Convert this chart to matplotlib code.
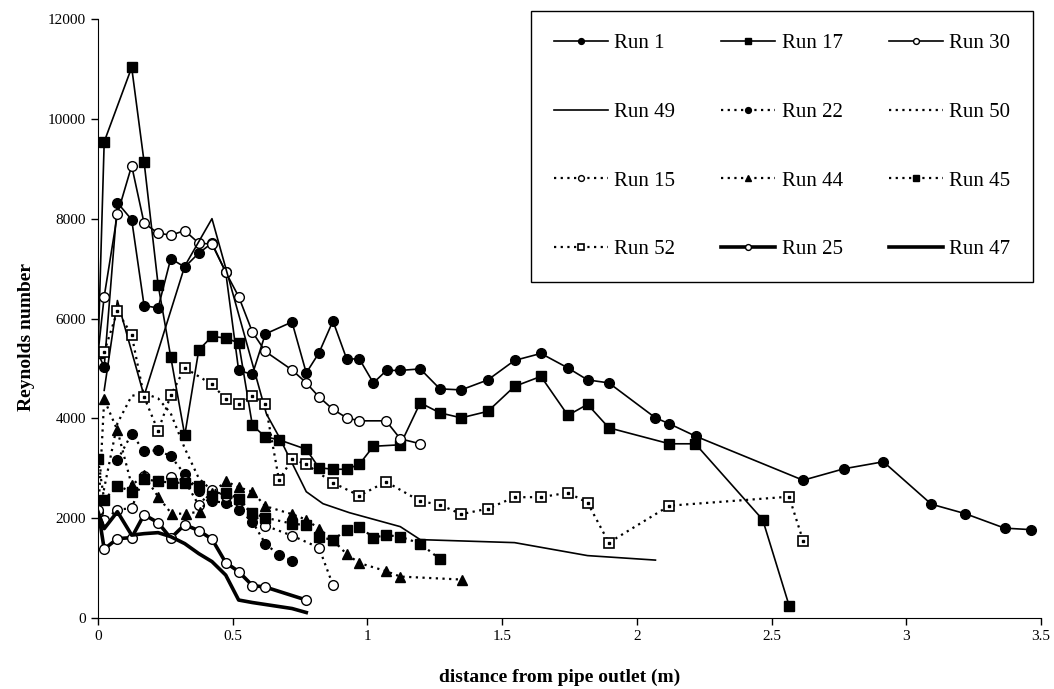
import matplotlib
matplotlib.use("Agg")
import matplotlib.pyplot as plt
from matplotlib.ticker import FuncFormatter

plt.rcParams['font.family'] = ['Liberation Serif', 'DejaVu Serif']

# distance from pipe outlet (m) and Reynolds number
run1_x = [0, 0.023, 0.072, 0.125, 0.171, 0.223, 0.27, 0.322, 0.374, 0.423, 0.474, 0.522, 0.573,
          0.621, 0.72, 0.773, 0.82, 0.872, 0.923, 0.97, 1.022, 1.071, 1.122, 1.196, 1.269, 1.348,
          1.447, 1.546, 1.644, 1.744, 1.817, 1.896, 2.069, 2.121, 2.219, 2.617, 2.769, 2.915,
          3.093, 3.219, 3.365, 3.464]
run1_y = [5300, 5030, 8320, 7980, 6260, 6210, 7200, 7030, 7310, 7510, 6930, 4960, 4880,
          5690, 5930, 4910, 5310, 5950, 5190, 5190, 4710, 4960, 4960, 4990, 4590, 4570,
          4770, 5160, 5300, 5010, 4770, 4710, 4010, 3890, 3640, 2760, 2990, 3130,
          2280, 2090, 1800, 1770]

run17_x = [0, 0.023, 0.125, 0.171, 0.223, 0.27, 0.322, 0.374, 0.423, 0.474, 0.522, 0.573, 0.621,
           0.672, 0.773, 0.82, 0.872, 0.923, 0.97, 1.022, 1.122, 1.196, 1.269, 1.348, 1.447,
           1.546, 1.644, 1.744, 1.817, 1.896, 2.121, 2.217, 2.467, 2.565]
run17_y = [5300, 9540, 11030, 9140, 6680, 5230, 3660, 5370, 5640, 5610, 5510, 3860, 3630,
           3570, 3380, 3010, 2980, 2980, 3080, 3440, 3470, 4310, 4110, 4010, 4140,
           4640, 4840, 4060, 4280, 3810, 3490, 3490, 1970, 250]

run30_x = [0, 0.023, 0.072, 0.125, 0.171, 0.223, 0.27, 0.322, 0.374, 0.423, 0.474, 0.522, 0.573,
           0.621, 0.72, 0.773, 0.82, 0.872, 0.923, 0.97, 1.069, 1.122, 1.196]
run30_y = [5300, 6440, 8090, 9060, 7910, 7710, 7670, 7760, 7510, 7490, 6930, 6440, 5730,
           5340, 4970, 4710, 4430, 4180, 4010, 3950, 3950, 3590, 3490]

run49_x = [0.023, 0.072, 0.171, 0.322, 0.423, 0.625, 0.672, 0.773, 0.835, 0.933, 1.122, 1.196,
           1.546, 1.817, 2.069]
run49_y = [4560, 6360, 4450, 7050, 8000, 4090, 3630, 2530, 2290, 2110, 1830, 1570,
           1510, 1250, 1160]

run22_x = [0.072, 0.125, 0.171, 0.223, 0.27, 0.322, 0.374, 0.423, 0.474, 0.522, 0.573, 0.621,
           0.672, 0.72]
run22_y = [3160, 3690, 3340, 3360, 3240, 2880, 2550, 2340, 2310, 2170, 1930, 1490,
           1260, 1150]

run50_x = [0, 0.023, 0.072, 0.125, 0.171, 0.223, 0.27, 0.322, 0.374, 0.423]
run50_y = [1900, 2600, 3900, 4450, 4500, 4400, 4100, 3400, 2800, 2550]

run15_x = [0, 0.023, 0.072, 0.125, 0.171, 0.223, 0.27, 0.322, 0.374, 0.423, 0.474, 0.522, 0.573,
           0.621, 0.72, 0.82, 0.872]
run15_y = [2120, 1960, 2170, 2200, 2850, 2750, 2830, 2750, 2260, 2560, 2450, 2350, 2090,
           1850, 1650, 1410, 660]

run44_x = [0, 0.023, 0.072, 0.125, 0.171, 0.223, 0.273, 0.325, 0.378, 0.423, 0.474, 0.522, 0.573,
           0.621, 0.72, 0.773, 0.82, 0.872, 0.923, 0.97, 1.069, 1.122, 1.35]
run44_y = [2000, 4380, 3760, 2660, 2860, 2430, 2090, 2090, 2130, 2500, 2740, 2620, 2530,
           2240, 2080, 1970, 1790, 1560, 1280, 1100, 940, 830, 770]

run45_x = [0, 0.023, 0.072, 0.125, 0.171, 0.223, 0.273, 0.322, 0.374, 0.423, 0.474, 0.522, 0.573,
           0.621, 0.72, 0.773, 0.82, 0.872, 0.923, 0.97, 1.022, 1.069, 1.122, 1.196, 1.269]
run45_y = [3180, 2370, 2650, 2530, 2780, 2740, 2710, 2710, 2650, 2450, 2510, 2390, 2100,
           2010, 1890, 1860, 1630, 1560, 1770, 1830, 1610, 1660, 1630, 1490, 1180]

run52_x = [0.023, 0.072, 0.125, 0.171, 0.223, 0.27, 0.322, 0.423, 0.474, 0.522, 0.573, 0.621,
           0.672, 0.72, 0.773, 0.872, 0.97, 1.069, 1.196, 1.269, 1.348, 1.447, 1.546, 1.644,
           1.744, 1.817, 1.896, 2.121, 2.565, 2.617]
run52_y = [5330, 6150, 5670, 4430, 3750, 4460, 5010, 4680, 4390, 4280, 4450, 4290,
           2760, 3180, 3080, 2710, 2450, 2730, 2340, 2270, 2080, 2190, 2420, 2420,
           2510, 2310, 1510, 2250, 2430, 1550]

run25_x = [0, 0.023, 0.072, 0.125, 0.171, 0.223, 0.27, 0.322, 0.374, 0.423, 0.474, 0.522, 0.573,
           0.621, 0.773]
run25_y = [2170, 1380, 1590, 1610, 2070, 1910, 1600, 1870, 1750, 1580, 1110, 930, 650,
           620, 360]

run47_x = [0, 0.023, 0.072, 0.125, 0.171, 0.223, 0.27, 0.322, 0.374, 0.423, 0.474, 0.522, 0.573,
           0.72, 0.773]
run47_y = [2130, 1790, 2130, 1660, 1690, 1710, 1630, 1490, 1290, 1130, 860, 360, 310,
           190, 110]

dot = (0, (1, 2))
fig = plt.figure(figsize=(10.54, 6.89), dpi=100)
ax = fig.add_axes([98 / 1054, 1 - 618 / 689, 943 / 1054, 599 / 689])

lines = {}
lines['Run 1'] = ax.plot(run1_x, run1_y, '-', color='k', lw=1.2, marker='o', ms=7, mfc='k', mec='k')[0]
lines['Run 17'] = ax.plot(run17_x, run17_y, '-', color='k', lw=1.2, marker='s', ms=6.5, mfc='k', mec='k')[0]
lines['Run 30'] = ax.plot(run30_x, run30_y, '-', color='k', lw=1.2, marker='o', ms=7, mfc='w', mec='k')[0]
lines['Run 49'] = ax.plot(run49_x, run49_y, '-', color='k', lw=1.2)[0]
lines['Run 22'] = ax.plot(run22_x, run22_y, ls=dot, color='k', lw=1.6, marker='o', ms=7, mfc='k', mec='k')[0]
lines['Run 50'] = ax.plot(run50_x, run50_y, ls=dot, color='k', lw=1.6)[0]
lines['Run 15'] = ax.plot(run15_x, run15_y, ls=dot, color='k', lw=1.6, marker='o', ms=7, mfc='w', mec='k')[0]
lines['Run 44'] = ax.plot(run44_x, run44_y, ls=dot, color='k', lw=1.6, marker='^', ms=7.5, mfc='k', mec='k')[0]
lines['Run 45'] = ax.plot(run45_x, run45_y, ls=dot, color='k', lw=1.6, marker='s', ms=6.5, mfc='k', mec='k')[0]
lines['Run 52'] = ax.plot(run52_x, run52_y, ls=dot, color='k', lw=1.6, marker='s', ms=6.5, mfc='w', mec='k', mew=1.2)[0]
ax.plot(run52_x, run52_y, ls='none', marker='s', ms=2, mfc='k', mec='k')
lines['Run 25'] = ax.plot(run25_x, run25_y, '-', color='k', lw=2.6, marker='o', ms=7, mfc='w', mec='k')[0]
lines['Run 47'] = ax.plot(run47_x, run47_y, '-', color='k', lw=2.6)[0]

ax.set_xlim(0, 3.5)
ax.set_ylim(0, 12000)
ax.set_xticks([0, 0.5, 1, 1.5, 2, 2.5, 3, 3.5])
ax.set_yticks(range(0, 12001, 2000))
ax.xaxis.set_major_formatter(FuncFormatter(lambda v, p: '%g' % v))
ax.spines['top'].set_visible(False)
ax.spines['right'].set_visible(False)
ax.tick_params(direction='out', length=5, width=1, labelsize=11, colors='k')
ax.set_xlabel('distance from pipe outlet (m)', fontsize=14, fontweight='bold')
ax.xaxis.set_label_coords(0.489, -0.084)
ax.set_ylabel('Reynolds number', fontsize=14, fontweight='bold')
ax.yaxis.set_label_coords(-0.067, 0.469)

# legend is filled column by column, so list the labels column-wise
order = ['Run 1', 'Run 49', 'Run 15', 'Run 52',
         'Run 17', 'Run 22', 'Run 44', 'Run 25',
         'Run 30', 'Run 50', 'Run 45', 'Run 47']
leg = fig.legend([lines[k] for k in order], order, ncol=3, loc='upper left',
                 bbox_to_anchor=(531 / 1054, 1 - 11 / 689), borderaxespad=0,
                 fontsize=15, markerscale=0.6, handlelength=2.6, handletextpad=0.3,
                 labelspacing=2.35, borderpad=1.1, columnspacing=2.2,
                 fancybox=False, framealpha=1, edgecolor='k')
leg.get_frame().set_linewidth(1)

fig.savefig('out.png', dpi=100)
